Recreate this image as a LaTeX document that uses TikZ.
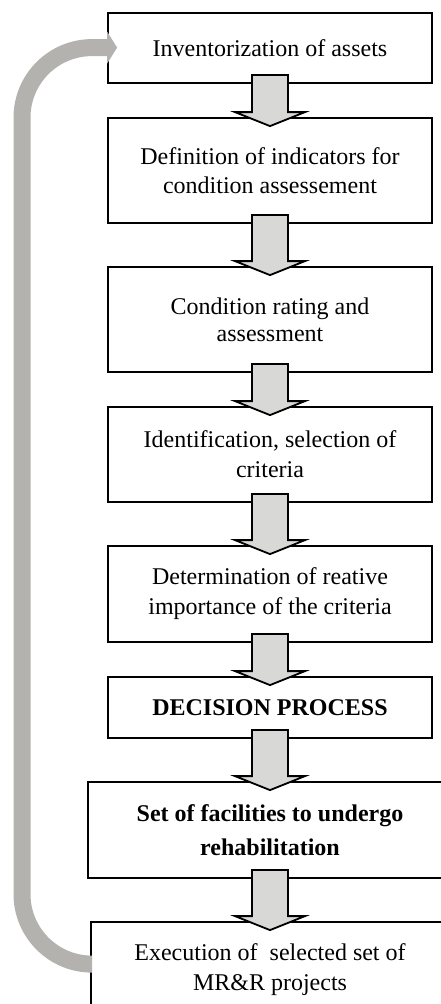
\documentclass[tikz,border=0pt]{standalone}
\usepackage{fontspec}
\setmainfont{Liberation Serif}
\usetikzlibrary{calc}
\definecolor{arrowfill}{RGB}{216,216,214}
\definecolor{loopgray}{RGB}{179,178,174}
\tikzset{
  box/.style={draw=black, line width=1.8pt, fill=white, inner sep=0pt, align=center,
    minimum width=324pt},
  txt/.style={font=\fontsize{24}{#1}\selectfont},
  blockarrow/.style={draw=black, line width=1.8pt, fill=arrowfill, line join=miter},
  loopline/.style={draw=loopgray, line width=17pt, rounded corners=70pt},
}
\newcommand\blockarr[2]{%
  \draw[blockarrow] let \p1=(#1.south -| b1.center), \p2=(#2.north -| b1.center) in
    (\x1-18pt,\y1+9pt) -- (\x1+18pt,\y1+9pt) -- (\x1+18pt,\y2+5pt) -- (\x1+35pt,\y2+5pt)
    -- (\x1,\y2-9pt) -- (\x1-35pt,\y2+5pt) -- (\x1-18pt,\y2+5pt) -- cycle;}
\begin{document}
\begin{tikzpicture}[x=1pt,y=-1pt]
\useasboundingbox (0,0) rectangle (441,1004);
\clip (0,0) rectangle (441,1004);
\node[box, txt=26, minimum height=70pt] (b1) at (270,48) {Inventorization of assets};
\node[box, txt=29, minimum height=105pt] (b2) at (270,170.5) {Definition of indicators for\\condition assessement};
\node[box, txt=27, minimum height=105pt] (b3) at (270,319.5) {Condition rating and\\assessment};
\node[box, txt=30, minimum height=95pt] (b4) at (270,454.5) {Identification, selection of\\criteria};
\node[box, txt=30, minimum height=96pt] (b5) at (270,594) {Determination of reative\\importance of the criteria};
\node[box, txt=26, minimum height=61pt] (b6) at (270,707.5) {\bfseries DECISION PROCESS};
\node[box, minimum height=96pt, minimum width=364pt, font=\fontsize{24}{34}\selectfont\bfseries] (b7) at (270,830) {Set of facilities to undergo\\rehabilitation};
\node[box, txt=30, minimum height=96pt, minimum width=358pt] (b8) at (270,970) {Execution of\ \ selected set of\\MR\&R projects};
% feedback loop
\coordinate (lstart) at ($(b8.north west)+(0,43)$);
\coordinate (lend) at ($(b1.north west)+(0,35.5)$);
\coordinate (lx) at (22,0);
\draw[loopline] (lstart) -- (lstart -| lx) -- (lend -| lx) -- (lend);
\fill[loopgray] ($(lend)+(0,-16)$) -- ($(lend)+(10,0)$) -- ($(lend)+(0,16)$) -- cycle;
% block arrows
\blockarr{b1}{b2}
\blockarr{b2}{b3}
\blockarr{b3}{b4}
\blockarr{b4}{b5}
\blockarr{b5}{b6}
\blockarr{b6}{b7}
\blockarr{b7}{b8}
\end{tikzpicture}
\end{document}
